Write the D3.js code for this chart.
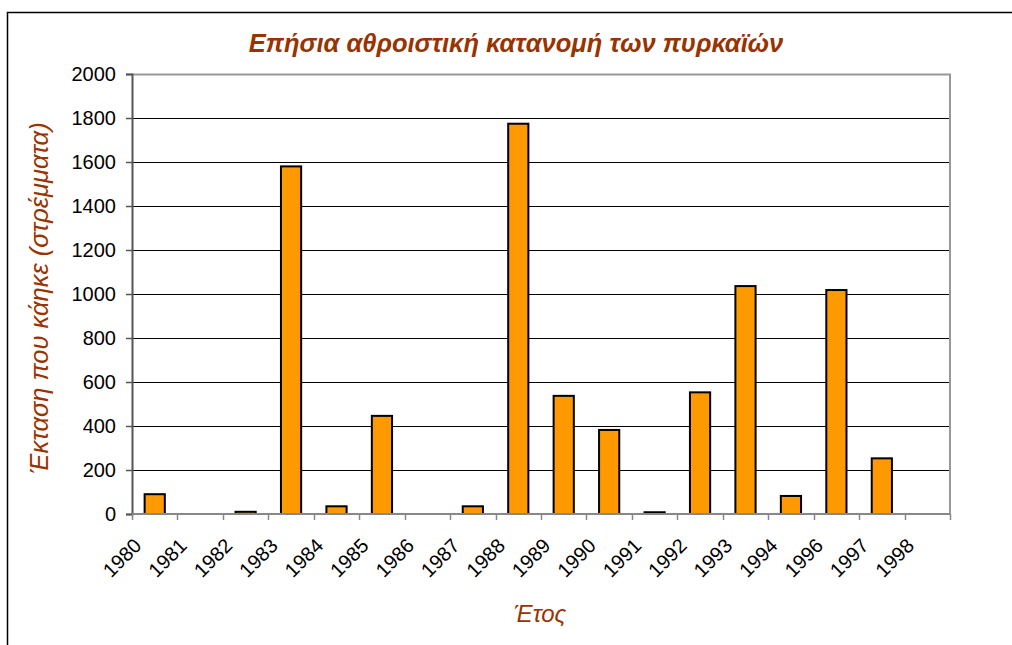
<!DOCTYPE html>
<html>
<head>
<meta charset="utf-8">
<script src="https://cdn.jsdelivr.net/npm/d3@7"></script>
<style>
  html, body { margin: 0; padding: 0; background: #fff; }
  svg { display: block; font-family: "Liberation Sans", Arial, sans-serif; }
</style>
</head>
<body>
<svg id="chart" width="1012" height="645"></svg>
<script>
// ---- data ----
const years = ["1980","1981","1982","1983","1984","1985","1986","1987","1988","1989","1990","1991","1992","1993","1994","1996","1997","1998"];
const areas = [90, 0, 10, 1580, 35, 446, 0, 35, 1774, 537, 382, 8, 553, 1036, 82, 1018, 253, 0];
const yTicks = [0, 200, 400, 600, 800, 1000, 1200, 1400, 1600, 1800, 2000];
const titleText = "Επήσια αθροιστική κατανομή των πυρκαϊών";
const yTitleText = "Έκταση που κάηκε (στρέμματα)";
const xTitleText = "Έτος";

const svg = d3.select("#chart");
const brown = "#993300";
const plot = { left: 132, right: 950, top: 74, bottom: 514 };

// outer chart frame
svg.append("rect")
  .attr("x", 7.5).attr("y", 12.5)
  .attr("width", 1100).attr("height", 1000)
  .attr("fill", "#fff").attr("stroke", "#000").attr("stroke-width", 1.5);

const x = d3.scaleBand().domain(years).range([plot.left, plot.right]).paddingInner(0).paddingOuter(0);
const y = d3.scaleLinear().domain([0, 2000]).range([plot.bottom, plot.top]);

// gridlines
svg.append("g").selectAll("line").data(yTicks.filter(d => d > 0 && d < 2000)).join("line")
  .attr("x1", plot.left).attr("x2", plot.right)
  .attr("y1", d => Math.round(y(d)) + 0.5).attr("y2", d => Math.round(y(d)) + 0.5)
  .attr("stroke", "#000").attr("stroke-width", 1);

// plot border top & right (gray)
svg.append("path")
  .attr("d", `M${plot.left},${plot.top + 0.5}H${plot.right}V${plot.bottom}`)
  .attr("fill", "none").attr("stroke", "#999").attr("stroke-width", 2);

// bars
const bw = x.bandwidth() / 2.25;
svg.append("g").selectAll("rect").data(years.map((yr, i) => ({ yr, v: areas[i] })).filter(d => d.v > 0)).join("rect")
  .attr("x", d => x(d.yr) + (x.bandwidth() - bw) / 2)
  .attr("width", bw)
  .attr("y", d => y(d.v))
  .attr("height", d => y(0) - y(d.v))
  .attr("fill", "#FF9900")
  .attr("stroke", "#000").attr("stroke-width", 2);

// y axis
const yAxis = d3.axisLeft(y).tickValues(yTicks).tickSize(6).tickPadding(10).tickFormat(d3.format("d"));
const gy = svg.append("g").attr("transform", `translate(${plot.left},0)`).call(yAxis);
gy.select(".domain").attr("stroke", "#555").attr("stroke-width", 2);
gy.selectAll(".tick line").attr("stroke", "#555").attr("stroke-width", 1.5);
gy.selectAll(".tick text").attr("font-size", 20).attr("fill", "#000")
  .attr("font-family", "'Liberation Sans', Arial, sans-serif");

// x axis line & ticks at category boundaries
const gx = svg.append("g");
gx.append("line").attr("x1", plot.left).attr("x2", plot.right)
  .attr("y1", plot.bottom).attr("y2", plot.bottom)
  .attr("stroke", "#888").attr("stroke-width", 2);
const bounds = years.map(yr => x(yr)).concat([plot.right]);
gx.selectAll("line.tk").data(bounds).join("line").attr("class", "tk")
  .attr("x1", d => Math.round(d) + 0.5).attr("x2", d => Math.round(d) + 0.5)
  .attr("y1", plot.bottom).attr("y2", plot.bottom + 6)
  .attr("stroke", "#888").attr("stroke-width", 1.5);
gx.selectAll("text").data(years).join("text")
  .attr("transform", d => `translate(${x(d) + x.bandwidth() / 2 - 12},${547}) rotate(-45)`)
  .attr("text-anchor", "end")
  .attr("font-size", 20).attr("fill", "#000")
  .text(d => d);

// titles
svg.append("text").attr("x", 516).attr("y", 52).attr("text-anchor", "middle")
  .attr("font-size", 25.5).attr("font-weight", "bold").attr("font-style", "italic")
  .attr("fill", brown).text(titleText);

svg.append("text").attr("transform", "translate(48,298) rotate(-90)")
  .attr("text-anchor", "middle")
  .attr("font-size", 25.5).attr("font-style", "italic")
  .attr("fill", brown).text(yTitleText);

svg.append("text").attr("x", 540).attr("y", 622).attr("text-anchor", "middle")
  .attr("font-size", 24).attr("font-style", "italic")
  .attr("fill", brown).text(xTitleText);
</script>
</body>
</html>
